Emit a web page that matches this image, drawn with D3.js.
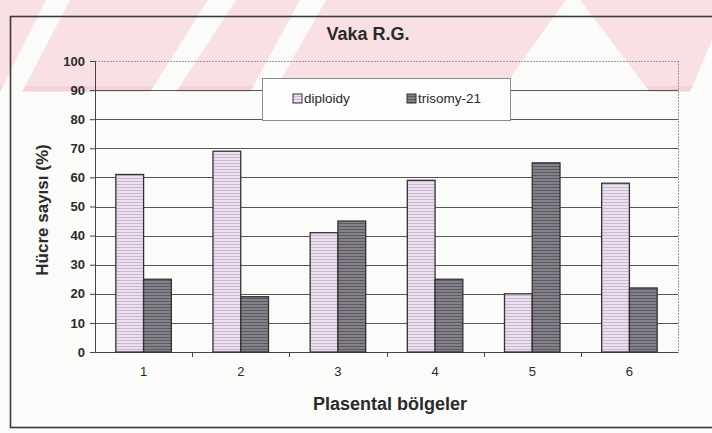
<!DOCTYPE html>
<html>
<head>
<meta charset="utf-8">
<script src="https://cdn.jsdelivr.net/npm/d3@7"></script>
<style>
  body { margin: 0; background: #fbfbf9; }
  svg { display: block; }
  text { font-family: "Liberation Sans", Arial, sans-serif; fill: #2a2a2a; }
</style>
</head>
<body>
<svg width="712" height="433"></svg>
<script>
const categories = ['1', '2', '3', '4', '5', '6']
const diploidy = [61, 69, 41, 59, 20, 58]
const trisomy = [25, 19, 45, 25, 65, 22]
const yTicks = [0, 10, 20, 30, 40, 50, 60, 70, 80, 90, 100]
const seriesNames = ['diploidy', 'trisomy-21']

const W = 712, H = 433
const M = { left: 95, right: 34, top: 61, bottom: 81 }
const PW = W - M.left - M.right
const PH = H - M.top - M.bottom

const svg = d3.select('svg')
const defs = svg.append('defs')

// faint pink watermark of the scanned page
svg.append('rect').attr('width', W).attr('height', 92).attr('fill', '#f8e0e3')
svg.append('rect').attr('y', 86).attr('width', W).attr('height', 5).attr('fill', '#f4d3d8')
const wmWhite = [
  [[0, 92], [22, 92], [70, 0], [46, 0]],
  [[150, 92], [176, 92], [236, 0], [208, 0]],
  [[250, 92], [274, 92], [326, 0], [300, 0]],
  [[500, 92], [650, 92], [580, 0], [566, 0]],
  [[690, 92], [712, 92], [712, 40]]
]
svg.append('g').selectAll('polygon').data(wmWhite).join('polygon')
  .attr('points', d => d.map(p => p.join(',')).join(' '))
  .attr('fill', '#fbfbf9')

// fill patterns like the printed bars
function hatch(id, base, line) {
  const p = defs.append('pattern').attr('id', id).attr('patternUnits', 'userSpaceOnUse')
    .attr('width', 4).attr('height', 3)
  p.append('rect').attr('width', 4).attr('height', 3).attr('fill', base)
  p.append('rect').attr('width', 4).attr('height', 1).attr('fill', line)
}
hatch('pDip', '#ecdff0', '#c9b8cd')
hatch('pTri', '#85818a', '#5c5960')

// outer chart frame
svg.append('rect').attr('x', 10.5).attr('y', 16.5).attr('width', 730).attr('height', 411)
  .attr('fill', 'none').attr('stroke', '#3a3a3a').attr('stroke-width', 1.6)

const g = svg.append('g').attr('transform', `translate(${M.left},${M.top})`)

const x0 = d3.scaleBand().domain(categories).range([0, PW])
const bw = x0.bandwidth() / 3.5
const x1 = d3.scaleBand().domain(seriesNames).range([bw * 0.75, bw * 2.75])
const y = d3.scaleLinear().domain([0, 100]).range([PH, 0])

// plot frame (top and right dotted)
g.append('line').attr('x1', 0).attr('x2', PW).attr('y1', 0.5).attr('y2', 0.5)
  .attr('stroke', '#9a9a9a').attr('stroke-dasharray', '2,1')
g.append('line').attr('x1', PW + 0.5).attr('x2', PW + 0.5).attr('y1', 0).attr('y2', PH)
  .attr('stroke', '#9a9a9a').attr('stroke-dasharray', '2,1')

// gridlines
g.append('g').selectAll('line').data(yTicks.filter(d => d > 0 && d < 100)).join('line')
  .attr('x1', 0).attr('x2', PW)
  .attr('y1', d => Math.round(y(d)) + 0.5).attr('y2', d => Math.round(y(d)) + 0.5)
  .attr('stroke', '#555').attr('stroke-width', 1)

// y axis
const yAxis = g.append('g').call(d3.axisLeft(y).tickValues(yTicks).tickSize(5).tickPadding(5))
yAxis.select('.domain').attr('stroke', '#444')
yAxis.selectAll('.tick line').attr('stroke', '#444')
yAxis.selectAll('text').attr('font-size', 13).attr('font-weight', 'bold').attr('fill', '#2a2a2a')
  .attr('font-family', '"Liberation Sans", Arial, sans-serif')

// x axis with ticks between categories
const xAxis = g.append('g').attr('transform', `translate(0,${PH})`)
  .call(d3.axisBottom(x0).tickSize(0).tickPadding(15))
xAxis.select('.domain').attr('stroke', '#444')
xAxis.selectAll('text').attr('font-size', 13).attr('fill', '#2a2a2a')
  .attr('font-family', '"Liberation Sans", Arial, sans-serif')
g.append('g').selectAll('line').data(categories.slice(1)).join('line')
  .attr('x1', d => Math.round(x0(d)) + 0.5).attr('x2', d => Math.round(x0(d)) + 0.5)
  .attr('y1', PH).attr('y2', PH + 5).attr('stroke', '#444')

// bars
const groups = g.append('g').selectAll('g').data(categories).join('g')
  .attr('transform', d => `translate(${x0(d)},0)`)
groups.selectAll('rect').data((d, i) => [
  { s: seriesNames[0], v: diploidy[i] },
  { s: seriesNames[1], v: trisomy[i] }
]).join('rect')
  .attr('x', d => x1(d.s)).attr('width', x1.bandwidth())
  .attr('y', d => y(d.v)).attr('height', d => PH - y(d.v))
  .attr('fill', d => d.s === seriesNames[0] ? 'url(#pDip)' : 'url(#pTri)')
  .attr('stroke', '#333').attr('stroke-width', 1.3)

// legend
const leg = svg.append('g').attr('transform', 'translate(262,78)')
leg.append('rect').attr('x', 0.5).attr('y', 0.5).attr('width', 248).attr('height', 42)
  .attr('fill', '#fdfdfd').attr('stroke', '#8a8a8a')
const legItems = [{ n: seriesNames[0], x: 31, f: 'url(#pDip)' }, { n: seriesNames[1], x: 145, f: 'url(#pTri)' }]
legItems.forEach(it => {
  leg.append('rect').attr('x', it.x).attr('y', 16).attr('width', 9).attr('height', 9)
    .attr('fill', it.f).attr('stroke', '#333')
  leg.append('text').attr('x', it.x + 11).attr('y', 25).attr('font-size', 13.5).text(it.n)
})

// titles
svg.append('text').attr('x', 368).attr('y', 40).attr('text-anchor', 'middle')
  .attr('font-size', 18).attr('font-weight', 'bold').text('Vaka R.G.')
svg.append('text').attr('transform', `translate(48,210) rotate(-90)`)
  .attr('text-anchor', 'middle').attr('font-size', 17).attr('font-weight', 'bold')
  .text('Hücre sayısı (%)')
svg.append('text').attr('x', 390).attr('y', 410).attr('text-anchor', 'middle')
  .attr('font-size', 18).attr('font-weight', 'bold').text('Plasental bölgeler')
</script>
</body>
</html>
